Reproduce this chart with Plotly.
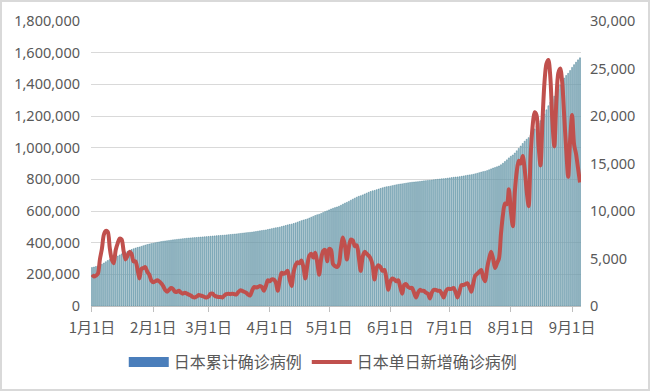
import numpy as np
import pandas as pd
import plotly.graph_objects as go

# ---- data ----
start_date = "2021-01-01"
cum_before_start = 240000  # cumulative cases before Jan 1

jan = [3300, 3100, 3200, 3400, 4900, 6000, 7500, 7900, 7800, 6100,
       4900, 4500, 5900, 6600, 7100, 7000, 5800, 4900, 5300, 5700,
       5500, 4700, 4700, 3900, 2900, 3900, 4000, 4100, 3600, 3300, 2700]
feb = [2500, 2600, 2700, 2600, 2400, 2100, 1700, 1500, 1700, 1900,
       1800, 1500, 1500, 1600, 1400, 1300, 1400, 1300, 1200, 1100,
       950, 900, 1000, 1150, 1100, 1050, 950, 900]
mar = [1000, 1300, 1300, 1100, 1000, 950, 950, 900, 1100, 1250,
       1300, 1250, 1300, 1250, 1200, 1450, 1650, 1600, 1500, 1400,
       1200, 1100, 1600, 2000, 1950, 2000, 2100, 2000, 1600, 2100, 2700]
apr = [2600, 2800, 2800, 2500, 1600, 2700, 3500, 3400, 3500, 3700,
       2800, 2100, 3500, 4300, 4600, 4500, 4800, 4100, 2900, 4300,
       5300, 5500, 5100, 5600, 4600, 3300, 5000, 5800, 5900, 4700]
may = [6000, 5900, 4400, 4200, 4100, 4400, 6100, 7200, 6400, 4900,
       6200, 7000, 6900, 6300, 6400, 5200, 3700, 5200, 5700, 5500,
       5300, 5000, 4300, 2800, 4000, 4300, 4100, 3700, 3800, 2900, 1700]
jun = [2600, 2900, 2800, 2600, 2700, 2000, 1300, 2200, 2300, 2000,
       1900, 1900, 1400, 900, 1400, 1700, 1600, 1600, 1400, 1300,
       800, 1400, 1700, 1700, 1600, 1600, 1300, 900, 1500, 1800]
jul = [1800, 1800, 1900, 1500, 900, 1500, 2200, 2200, 2300, 2400,
       2000, 1500, 2400, 3200, 3400, 3600, 3800, 3000, 2600, 4000,
       5000, 5700, 5000, 4000, 4500, 5000, 7600, 9600, 10800, 10700, 12300]
aug = [10000, 8400, 12000, 14200, 15300, 15000, 15800, 14400, 12100, 10500,
       15800, 18900, 20400, 20100, 17000, 14800, 19500, 23500, 25500, 25900,
       24000, 19500, 16800, 21500, 24500, 25000, 23500, 20000, 16500, 13600, 17500]
sep = [20100, 17000, 16000, 14500, 13000]

daily_new = jan + feb + mar + apr + may + jun + jul + aug + sep
dates = pd.date_range(start_date, periods=len(daily_new), freq="D")
cumulative = cum_before_start + np.cumsum(daily_new)

tick_dates = ["2021-01-01", "2021-02-01", "2021-03-01", "2021-04-01", "2021-05-01",
              "2021-06-01", "2021-07-01", "2021-08-01", "2021-09-01"]
tick_labels = ["1月1日", "2月1日", "3月1日", "4月1日", "5月1日",
               "6月1日", "7月1日", "8月1日", "9月1日"]

name_cum = "日本累计确诊病例"
name_daily = "日本单日新增确诊病例"

# ---- figure ----
fig = go.Figure()

fig.add_trace(go.Bar(
    x=dates, y=cumulative, name=name_cum, showlegend=False,
    marker=dict(color="#a9c8d5", line=dict(color="#4a8194", width=0.5)),
    yaxis="y",
))
# legend entry for the bars (wide swatch)
fig.add_trace(go.Scatter(
    x=[None], y=[None], mode="lines", name=name_cum,
    line=dict(color="#4a7ebb", width=10), yaxis="y",
))
fig.add_trace(go.Scatter(
    x=dates, y=daily_new, name=name_daily, mode="lines",
    line=dict(color="#c0504d", width=4, shape="spline", smoothing=0.8),
    yaxis="y2",
))

num_font = dict(family="Noto Sans, DejaVu Sans, sans-serif", size=14.5, color="#595959")
cjk_font = dict(family="Noto Sans CJK SC, sans-serif", size=15, color="#595959")

fig.update_layout(
    width=650, height=391,
    margin=dict(l=91, r=69, t=21, b=85, autoexpand=False),
    paper_bgcolor="white", plot_bgcolor="white",
    bargap=0.5,
    showlegend=True,
    legend=dict(orientation="h", x=0.474, xanchor="center", y=-0.197, yanchor="middle",
                font=dict(family="Noto Sans CJK SC, sans-serif", size=16, color="#595959"),
                itemwidth=40, bgcolor="rgba(0,0,0,0)"),
    xaxis=dict(
        type="date", automargin=False,
        range=["2020-12-31 12:00", "2021-09-05 12:00"],
        tickvals=tick_dates, ticktext=tick_labels,
        tickfont=cjk_font,
        showgrid=False, showline=True, linecolor="#bfbfbf", linewidth=1,
        ticks="outside", ticklen=5, tickcolor="#bfbfbf",
        ticklabelstandoff=3,
        zeroline=False,
    ),
    yaxis=dict(
        range=[0, 1800000], dtick=200000, tickformat=",d", automargin=False,
        tickfont=num_font, showgrid=True, gridcolor="#d9d9d9", gridwidth=1,
        zeroline=False, showline=False, ticks="", ticklabelstandoff=10,
    ),
    yaxis2=dict(
        range=[0, 30000], dtick=5000, tickformat=",d", overlaying="y", side="right",
        automargin=False,
        tickfont=num_font, showgrid=False, zeroline=False, showline=False,
        ticks="", ticklabelstandoff=8,
    ),
    shapes=[dict(type="rect", xref="paper", yref="paper",
                 x0=-90 / 490, x1=1 + 68 / 490, y0=-84 / 285, y1=1 + 20 / 285,
                 line=dict(color="#d9d9d9", width=2), fillcolor="rgba(0,0,0,0)",
                 layer="below")],
)

post = "document.body.style.margin='0';document.body.style.padding='0';"
fig.write_html("out.html", post_script=post, config={"displayModeBar": False})
